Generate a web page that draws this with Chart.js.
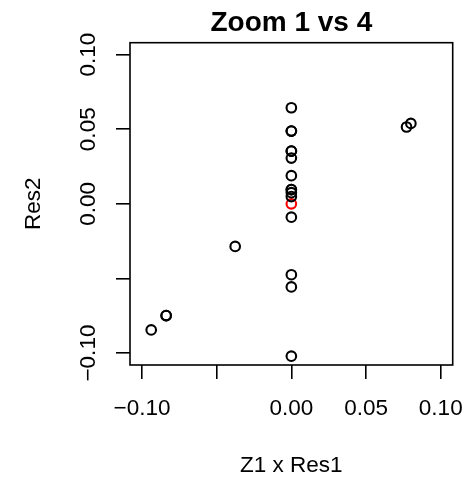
<!DOCTYPE html>
<html>
<head>
<meta charset="utf-8">
<script src="https://cdn.jsdelivr.net/npm/chart.js@4.4.1/dist/chart.umd.min.js"></script>
<style>
  html, body { margin: 0; padding: 0; background: #ffffff; }
  canvas { display: block; }
</style>
</head>
<body>
<canvas id="c" width="469" height="478"></canvas>
<script>
// ---- data ----
const titleText = 'Zoom 1 vs 4';
const xTitle = 'Z1 x Res1';
const yTitle = 'Res2';

const blackX = [0, 0, 0, 0, 0, 0, 0, 0, 0, 0, 0, 0, 0, 0, 0, -0.0376, -0.0838, -0.0838, -0.0938, 0.0771, 0.0800];
const blackY = [0.0644, 0.0488, 0.0488, 0.0354, 0.0354, 0.0307, 0.0189, 0.0096, 0.0096, 0.0075, 0.0049, -0.0089, -0.0475, -0.0557, -0.1021, -0.0285, -0.0749, -0.0749, -0.0845, 0.0515, 0.0539];
const redX = [0];
const redY = [0];

const axisMin = -0.108;
const axisMax = 0.108;
const xTickValues = [-0.10, -0.05, 0.00, 0.05, 0.10];
const xTickLabels = ['\u22120.10', '', '0.00', '0.05', '0.10'];
const yTickValues = [-0.10, -0.05, 0.00, 0.05, 0.10];
const yTickLabels = ['\u22120.10', '', '0.00', '0.05', '0.10'];

const toPoints = (xs, ys) => xs.map((x, i) => ({ x: x, y: ys[i] }));

const FONT = 'Liberation Sans, Arial, Helvetica, sans-serif';

const boxPlugin = {
  id: 'rbox',
  afterDraw(chart) {
    const a = chart.chartArea;
    const ctx = chart.ctx;
    ctx.save();
    ctx.strokeStyle = '#000';
    ctx.lineWidth = 1.6;
    ctx.strokeRect(a.left, a.top, a.right - a.left, a.bottom - a.top);
    ctx.restore();
  }
};

function labelFor(values, labels) {
  return function (value) {
    for (let i = 0; i < values.length; i++) {
      if (Math.abs(values[i] - value) < 1e-9) return labels[i];
    }
    return '';
  };
}

function noPad(s) {
  s.paddingLeft = 0; s.paddingRight = 0; s.paddingTop = 0; s.paddingBottom = 0;
}

new Chart(document.getElementById('c'), {
  type: 'scatter',
  data: {
    datasets: [
      {
        data: toPoints(blackX, blackY),
        borderColor: '#000000',
        backgroundColor: 'rgba(0,0,0,0)',
        pointRadius: 4.8,
        pointBorderWidth: 2.1,
        pointHoverRadius: 4.8
      },
      {
        data: toPoints(redX, redY),
        borderColor: '#ff0000',
        backgroundColor: 'rgba(0,0,0,0)',
        pointRadius: 4.8,
        pointBorderWidth: 2.1,
        pointHoverRadius: 4.8
      }
    ]
  },
  options: {
    responsive: false,
    animation: false,
    devicePixelRatio: 1,
    layout: { padding: { top: 0, right: 16.3, bottom: 0, left: 0 } },
    plugins: {
      legend: { display: false },
      tooltip: { enabled: false },
      title: {
        display: true,
        text: titleText,
        fullSize: false,
        color: '#000',
        font: { family: FONT, size: 28, weight: 'bold', lineHeight: 1 },
        padding: { top: 9.3, bottom: 5.4 }
      }
    },
    scales: {
      x: {
        type: 'linear',
        position: 'bottom',
        min: axisMin,
        max: axisMax,
        afterBuildTicks: (s) => { s.ticks = xTickValues.map(v => ({ value: v })); },
        afterFit: (s) => { s.height = 113; noPad(s); },
        grid: {
          display: true, drawOnChartArea: false, drawTicks: true,
          tickLength: 14, color: '#000', lineWidth: 1.6
        },
        border: { display: false },
        ticks: {
          color: '#000',
          padding: 16,
          maxRotation: 0, minRotation: 0,
          autoSkip: false,
          font: { family: FONT, size: 22.5 },
          callback: labelFor(xTickValues, xTickLabels)
        },
        title: {
          display: true,
          text: xTitle,
          color: '#000',
          font: { family: FONT, size: 22.5, lineHeight: 1 },
          padding: { top: 0, bottom: 1 }
        }
      },
      y: {
        type: 'linear',
        position: 'left',
        min: axisMin,
        max: axisMax,
        afterBuildTicks: (s) => { s.ticks = yTickValues.map(v => ({ value: v })); },
        afterFit: (s) => { s.width = 130; noPad(s); },
        grid: {
          display: true, drawOnChartArea: false, drawTicks: true,
          tickLength: 14, color: '#000', lineWidth: 1.6
        },
        border: { display: false },
        ticks: {
          color: '#000',
          padding: -1.5,
          minRotation: 90, maxRotation: 90,
          crossAlign: 'center',
          autoSkip: false,
          font: { family: FONT, size: 22.5 },
          callback: labelFor(yTickValues, yTickLabels)
        },
        title: {
          display: true,
          text: yTitle,
          color: '#000',
          font: { family: FONT, size: 22.5, lineHeight: 1 },
          padding: { top: 22.25, bottom: 0 }
        }
      }
    }
  },
  plugins: [boxPlugin]
});
</script>
</body>
</html>
